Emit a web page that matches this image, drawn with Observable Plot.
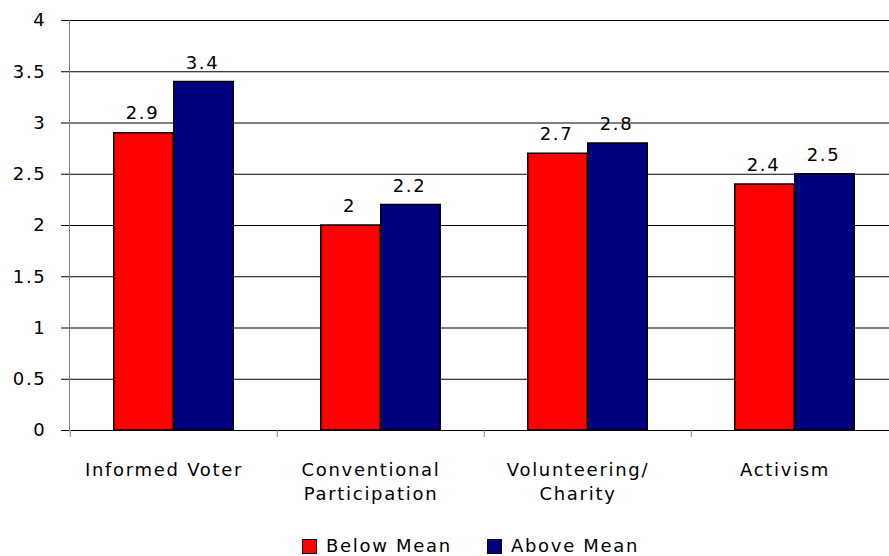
<!DOCTYPE html>
<html>
<head>
<meta charset="utf-8">
<script src="https://cdn.jsdelivr.net/npm/d3@7"></script>
<script src="https://cdn.jsdelivr.net/npm/@observablehq/plot@0.6"></script>
<style>
  html, body { margin: 0; padding: 0; background: #fff; }
  #chart { width: 889px; }
  .legend { display: flex; align-items: center; margin-left: 302px; margin-top: 9px;
    font-family: "DejaVu Sans", Verdana, sans-serif; font-size: 18px; letter-spacing: 1.7px; color: #000; line-height: 18px; }
  .legend .item { display: flex; align-items: center; margin-right: 35px; }
  .legend .sw { width: 15px; height: 15px; box-sizing: border-box; border: 1.5px solid #000; margin-right: 9px; }
</style>
</head>
<body>
<div id="chart"></div>
<script>
const categories = ["Informed Voter", "Conventional Participation", "Volunteering/ Charity", "Activism"];
const categoryLabels = ["Informed Voter", "Conventional\nParticipation", "Volunteering/\nCharity", "Activism"];
const series = ["Below Mean", "Above Mean"];
const belowMean = [2.9, 2.0, 2.7, 2.4];
const aboveMean = [3.4, 2.2, 2.8, 2.5];
const colors = ["#FF0000", "#000080"];
const yTicks = [0, 0.5, 1, 1.5, 2, 2.5, 3, 3.5, 4];

const below = categories.map((c, i) => ({category: c, series: series[0], value: belowMean[i]}));
const above = categories.map((c, i) => ({category: c, series: series[1], value: aboveMean[i]}));

const xRange = [69, 899];
const bw = (xRange[1] - xRange[0]) / categories.length;
const barW = 60;
const FS = 18;

const chart = Plot.plot({
  width: 889,
  height: 528,
  marginLeft: 69,
  marginRight: 0,
  marginTop: 20,
  marginBottom: 98,
  style: {fontFamily: '"DejaVu Sans", Verdana, sans-serif', fontSize: "18px", letterSpacing: "1.7px", color: "#000", background: "#fff"},
  x: {type: "band", domain: categories, range: xRange, padding: 0},
  y: {domain: [0, 4]},
  marks: [
    Plot.gridY(yTicks, {stroke: "#000", strokeOpacity: 1}),
    Plot.frame({anchor: "left", stroke: "#808080"}),
    Plot.ruleX(categories, {x: d => d, dx: -bw / 2, y1: 0, y2: 0, insetBottom: -7, stroke: "#808080"}),
    Plot.axisY({ticks: yTicks, tickSize: 8, tickPadding: 15, fontSize: FS, tickFormat: d => String(d), stroke: "#000", label: null}),
    Plot.axisX({tickSize: 0, tickPadding: 28, dx: -10, fontSize: FS, lineHeight: 1.36, tickFormat: d => categoryLabels[categories.indexOf(d)], label: null}),
    Plot.barY(below, {x: "category", y: "value", fill: colors[0], stroke: "#000", strokeWidth: 1.5, insetLeft: bw / 2 - barW, insetRight: bw / 2}),
    Plot.barY(above, {x: "category", y: "value", fill: colors[1], stroke: "#000", strokeWidth: 1.5, insetLeft: bw / 2, insetRight: bw / 2 - barW}),
    Plot.text(below, {x: "category", y: "value", text: d => String(d.value), fontSize: FS, dx: -barW / 2 - 1.5, dy: -14, lineAnchor: "bottom", fill: "#000"}),
    Plot.text(above, {x: "category", y: "value", text: d => String(d.value), fontSize: FS, dx: barW / 2 - 1.5, dy: -13.5, lineAnchor: "bottom", fill: "#000"})
  ]
});
document.getElementById("chart").appendChild(chart);

const legend = document.createElement("div");
legend.className = "legend";
series.forEach((s, i) => {
  const item = document.createElement("div");
  item.className = "item";
  const sw = document.createElement("span");
  sw.className = "sw";
  sw.style.background = colors[i];
  const label = document.createElement("span");
  label.textContent = s;
  item.appendChild(sw);
  item.appendChild(label);
  legend.appendChild(item);
});
document.getElementById("chart").appendChild(legend);
</script>
</body>
</html>
